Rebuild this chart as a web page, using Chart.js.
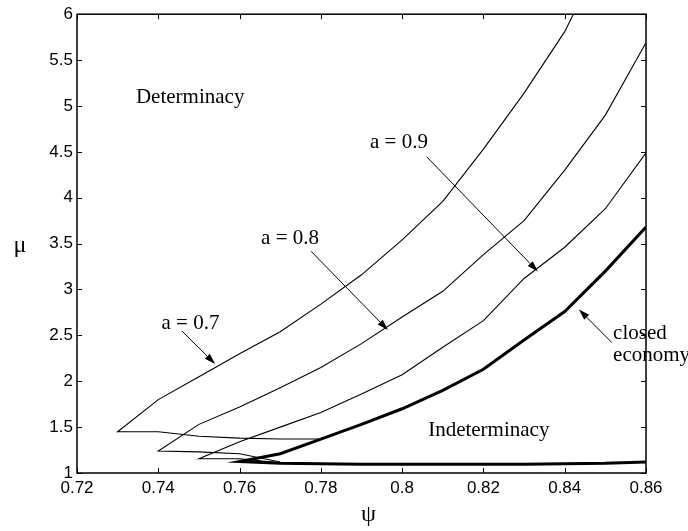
<!DOCTYPE html>
<html>
<head>
<meta charset="utf-8">
<script src="https://cdn.jsdelivr.net/npm/chart.js@4/dist/chart.umd.min.js"></script>
<style>
  html, body { margin: 0; padding: 0; background: #fff; }
</style>
</head>
<body>
<canvas id="muChart" width="688" height="531"></canvas>
<script>
// tick labels
const psiTicks = [0.72, 0.74, 0.76, 0.78, 0.80, 0.82, 0.84, 0.86];
const muTicks = [1, 1.5, 2, 2.5, 3, 3.5, 4, 4.5, 5, 5.5, 6];

// a = 0.7 boundary (lower branch runs back to the cusp, then upper branch)
const a07LowerPsi = [0.78, 0.77, 0.76, 0.75, 0.74, 0.73];
const a07LowerMu  = [1.37, 1.37, 1.38, 1.40, 1.45, 1.45];
const a07UpperPsi = [0.73, 0.74, 0.75, 0.76, 0.77, 0.78, 0.79, 0.80, 0.81, 0.82, 0.83, 0.84, 0.85];
const a07UpperMu  = [1.45, 1.80, 2.05, 2.30, 2.54, 2.84, 3.16, 3.54, 3.96, 4.53, 5.14, 5.81, 6.70];

// a = 0.8
const a08LowerPsi = [0.77, 0.76, 0.75, 0.74];
const a08LowerMu  = [1.12, 1.21, 1.23, 1.24];
const a08UpperPsi = [0.74, 0.75, 0.76, 0.77, 0.78, 0.79, 0.80, 0.81, 0.82, 0.83, 0.84, 0.85, 0.86];
const a08UpperMu  = [1.24, 1.53, 1.72, 1.93, 2.15, 2.41, 2.70, 2.98, 3.38, 3.75, 4.30, 4.90, 5.69];

// a = 0.9
const a09LowerPsi = [0.77, 0.76, 0.75];
const a09LowerMu  = [1.11, 1.155, 1.155];
const a09UpperPsi = [0.75, 0.76, 0.77, 0.78, 0.79, 0.80, 0.81, 0.82, 0.83, 0.84, 0.85, 0.86];
const a09UpperMu  = [1.155, 1.34, 1.50, 1.66, 1.86, 2.07, 2.37, 2.66, 3.12, 3.46, 3.88, 4.49];

// closed economy (thick)
const closedLowerPsi = [0.86, 0.85, 0.84, 0.83, 0.82, 0.81, 0.80, 0.79, 0.78, 0.77, 0.76];
const closedLowerMu  = [1.12, 1.105, 1.10, 1.095, 1.095, 1.095, 1.095, 1.095, 1.10, 1.105, 1.125];
const closedUpperPsi = [0.76, 0.77, 0.78, 0.79, 0.80, 0.81, 0.82, 0.83, 0.84, 0.85, 0.86];
const closedUpperMu  = [1.125, 1.21, 1.37, 1.53, 1.70, 1.90, 2.13, 2.45, 2.76, 3.20, 3.68];

// labels and arrows, placed in data units
const notes = [
    { text: 'Determinacy', psi: 0.7345, mu: 5.03 },
    { text: 'a = 0.7', psi: 0.7408, mu: 2.566 },
    { text: 'a = 0.8', psi: 0.7653, mu: 3.50 },
    { text: 'a = 0.9', psi: 0.7921, mu: 4.54 },
    { text: 'Indeterminacy', psi: 0.8064, mu: 1.403 },
    { text: 'closed', psi: 0.8519, mu: 2.458 },
    { text: 'economy', psi: 0.8519, mu: 2.224 },
];
const arrows = [
    { from: [0.7458, 2.548], to: [0.7540, 2.188] },
    { from: [0.7776, 3.416], to: [0.7965, 2.558] },
    { from: [0.8060, 4.448], to: [0.8334, 3.195] },
    { from: [0.8516, 2.421], to: [0.8435, 2.782] },
];

function path(psiA, muA, psiB, muB) {
    return psiA.concat(psiB).map((p, i) => ({ x: p, y: muA.concat(muB)[i] }));
}

function curve(data, width) {
    return {
        data: data,
        showLine: true,
        borderColor: '#000',
        borderWidth: width,
        pointRadius: 0,
        tension: 0,
        fill: false,
    };
}

const fmt = v => String(+(+v).toFixed(2));

// frame, inward ticks, labels and arrows
const framePlugin = {
    id: 'frame',
    afterDraw(chart) {
        const { ctx, chartArea: a, scales: { x, y } } = chart;
        ctx.save();
        ctx.strokeStyle = '#000';
        ctx.fillStyle = '#000';

        ctx.lineWidth = 1;
        ctx.beginPath();
        psiTicks.forEach(v => {
            const px = Math.round(x.getPixelForValue(v)) + 0.5;
            ctx.moveTo(px, a.bottom); ctx.lineTo(px, a.bottom - 5);
            ctx.moveTo(px, a.top); ctx.lineTo(px, a.top + 5);
        });
        muTicks.forEach(v => {
            const py = Math.round(y.getPixelForValue(v)) + 0.5;
            ctx.moveTo(a.left, py); ctx.lineTo(a.left + 5, py);
            ctx.moveTo(a.right, py); ctx.lineTo(a.right - 5, py);
        });
        ctx.stroke();

        ctx.lineWidth = 1.5;
        ctx.strokeRect(a.left, a.top, a.right - a.left, a.bottom - a.top);

        ctx.font = '21px "Liberation Serif", "Times New Roman", serif';
        ctx.textAlign = 'left';
        ctx.textBaseline = 'alphabetic';
        notes.forEach(n => ctx.fillText(n.text, x.getPixelForValue(n.psi), y.getPixelForValue(n.mu)));

        ctx.lineWidth = 1;
        arrows.forEach(ar => {
            const x0 = x.getPixelForValue(ar.from[0]), y0 = y.getPixelForValue(ar.from[1]);
            const x1 = x.getPixelForValue(ar.to[0]), y1 = y.getPixelForValue(ar.to[1]);
            const ang = Math.atan2(y1 - y0, x1 - x0);
            const len = 11, half = 3.5;
            const bx = x1 - len * Math.cos(ang), by = y1 - len * Math.sin(ang);
            ctx.beginPath();
            ctx.moveTo(x0, y0); ctx.lineTo(bx, by);
            ctx.stroke();
            ctx.beginPath();
            ctx.moveTo(x1, y1);
            ctx.lineTo(bx + half * Math.sin(ang), by - half * Math.cos(ang));
            ctx.lineTo(bx - half * Math.sin(ang), by + half * Math.cos(ang));
            ctx.closePath();
            ctx.fill();
        });

        // axis symbols
        ctx.font = '24px "Liberation Serif", "DejaVu Serif", serif';
        ctx.textAlign = 'center';
        ctx.textBaseline = 'middle';
        ctx.fillText('μ', 20, (a.top + a.bottom) / 2 + 2);
        ctx.fillText('ψ', (a.left + a.right) / 2 + 7, a.bottom + 42);
        ctx.restore();
    }
};

const ctx = document.getElementById('muChart').getContext('2d');
const muChart = new Chart(ctx, {
    type: 'scatter',
    data: {
        datasets: [
            curve(path(a07LowerPsi, a07LowerMu, a07UpperPsi, a07UpperMu), 1.1),
            curve(path(a08LowerPsi, a08LowerMu, a08UpperPsi, a08UpperMu), 1.1),
            curve(path(a09LowerPsi, a09LowerMu, a09UpperPsi, a09UpperMu), 1.1),
            curve(path(closedLowerPsi, closedLowerMu, closedUpperPsi, closedUpperMu), 3),
        ]
    },
    options: {
        responsive: false,
        animation: false,
        layout: { padding: { left: 0, right: 42, top: 10, bottom: 0 } },
        plugins: { legend: { display: false }, tooltip: { enabled: false } },
        scales: {
            x: {
                type: 'linear',
                min: 0.72,
                max: 0.86,
                afterBuildTicks: s => { s.ticks = psiTicks.map(v => ({ value: v })); },
                afterFit: s => { s.height = 58; },
                grid: { display: false, drawTicks: false },
                border: { display: false },
                ticks: {
                    color: '#000',
                    padding: 5,
                    maxRotation: 0,
                    font: { family: '"Liberation Sans", Arial, sans-serif', size: 17 },
                    callback: fmt,
                },
            },
            y: {
                type: 'linear',
                min: 1,
                max: 6,
                afterBuildTicks: s => { s.ticks = muTicks.map(v => ({ value: v })); },
                afterFit: s => { s.width = 77; },
                grid: { display: false, drawTicks: false },
                border: { display: false },
                ticks: {
                    color: '#000',
                    padding: 4,
                    font: { family: '"Liberation Sans", Arial, sans-serif', size: 17 },
                    callback: fmt,
                },
            }
        }
    },
    plugins: [framePlugin]
});
</script>
</body>
</html>
